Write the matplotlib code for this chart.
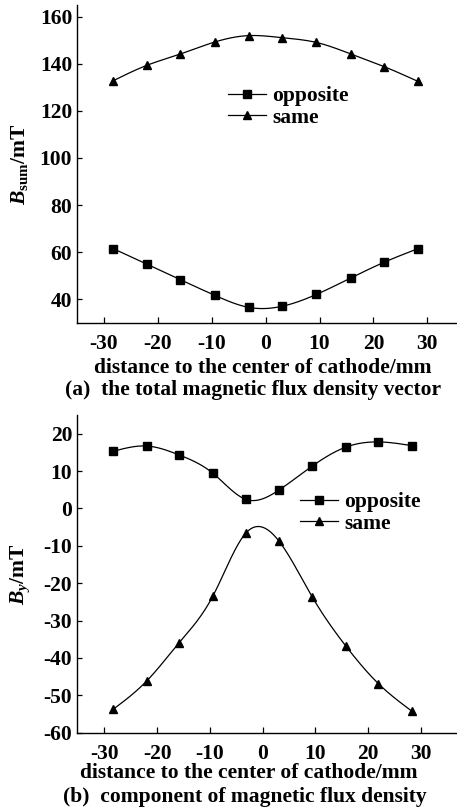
import numpy as np
import matplotlib
matplotlib.use("Agg")
import matplotlib.pyplot as plt
from matplotlib.lines import Line2D

plt.rcParams['font.family'] = ['Liberation Serif', 'DejaVu Serif']
plt.rcParams['font.weight'] = 'bold'
plt.rcParams['axes.unicode_minus'] = False
plt.rcParams['mathtext.fontset'] = 'custom'
plt.rcParams['mathtext.it'] = 'Liberation Serif:italic:bold'
plt.rcParams['mathtext.rm'] = 'Liberation Serif:bold'
plt.rcParams['mathtext.bf'] = 'Liberation Serif:bold'

# ---- data ----
x_pos = [-28.3, -22.0, -15.8, -9.4, -3.1, 3.1, 9.4, 15.8, 22.0, 28.3]

sum_opposite = [61.5, 54.8, 48.2, 41.6, 36.5, 37.0, 42.0, 49.0, 55.7, 61.5]
sum_same = [132.8, 139.4, 144.2, 149.3, 152.0, 151.1, 149.1, 144.2, 138.8, 132.5]

by_opposite = [15.3, 16.7, 14.3, 9.4, 2.4, 4.9, 11.3, 16.4, 17.8, 16.8]
by_same = [-53.7, -46.2, -35.9, -23.4, -6.5, -8.7, -23.6, -36.8, -46.9, -54.2]

xticks = [-30, -20, -10, 0, 10, 20, 30]
yticks_a = [40, 60, 80, 100, 120, 140, 160]
yticks_b = [-60, -50, -40, -30, -20, -10, 0, 10, 20]

labels = ["opposite", "same"]
xlabel = "distance to the center of cathode/mm"
cap_a = "(a)  the total magnetic flux density vector"
cap_b = "(b)  component of magnetic flux density"


def spline(x, y, n=300):
    x = np.asarray(x, float); y = np.asarray(y, float)
    m = len(x); h = np.diff(x)
    A = np.zeros((m, m)); r = np.zeros(m)
    A[0, 0] = A[-1, -1] = 1
    for i in range(1, m - 1):
        A[i, i - 1] = h[i - 1]; A[i, i] = 2 * (h[i - 1] + h[i]); A[i, i + 1] = h[i]
        r[i] = 3 * ((y[i + 1] - y[i]) / h[i] - (y[i] - y[i - 1]) / h[i - 1])
    c = np.linalg.solve(A, r)
    b = np.diff(y) / h - h * (2 * c[:-1] + c[1:]) / 3
    d = np.diff(c) / (3 * h)
    xs = np.linspace(x[0], x[-1], n)
    idx = np.clip(np.searchsorted(x, xs) - 1, 0, m - 2)
    dx = xs - x[idx]
    ys = y[idx] + b[idx] * dx + c[idx] * dx ** 2 + d[idx] * dx ** 3
    return xs, ys


W, H = 457, 811
fig = plt.figure(figsize=(W / 100, H / 100), dpi=100)

ax1 = fig.add_axes([77 / W, 1 - 322.7 / H, (W - 77) / W, (322.7 - 5) / H])
ax2 = fig.add_axes([77 / W, 1 - 732.7 / H, (W - 77) / W, (732.7 - 415) / H])

fs = 15.5
for ax, series, xlim, ylim, yt in [
    (ax1, [sum_opposite, sum_same], (-35, 35.5), (30, 165), yticks_a),
    (ax2, [by_opposite, by_same], (-35.2, 36.9), (-60, 25), yticks_b),
]:
    for vals, mk, ms in zip(series, ['s', '^'], [5.2, 5.8]):
        xs, ys = spline(x_pos, vals)
        ax.plot(xs, ys, color='black', lw=0.9)
        ax.plot(x_pos, vals, linestyle='none', marker=mk, color='black', ms=ms)
    ax.set_xlim(*xlim); ax.set_ylim(*ylim)
    ax.set_xticks(xticks); ax.set_yticks(yt)
    ax.spines['top'].set_visible(False)
    ax.spines['right'].set_visible(False)
    for s in ['left', 'bottom']:
        ax.spines[s].set_linewidth(1.0)
    ax.tick_params(axis='x', direction='in', length=4.3, width=0.9, pad=8, labelsize=fs)
    ax.tick_params(axis='y', direction='in', length=3.6, width=0.9, pad=3.5, labelsize=fs)
    for lab in ax.get_xticklabels() + ax.get_yticklabels():
        lab.set_fontweight('bold')

# legends
for ax, (lx, ly) in [(ax1, (228, 86)), (ax2, (300, 492))]:
    handles = [Line2D([], [], color='black', lw=0.9, marker='s', ms=5.2),
               Line2D([], [], color='black', lw=0.9, marker='^', ms=5.8)]
    fig.legend(handles, labels, loc='upper left', bbox_to_anchor=(lx / W, 1 - ly / H),
               bbox_transform=fig.transFigure, frameon=False, borderpad=0, borderaxespad=0,
               handlelength=1.77, handletextpad=0.28, labelspacing=0.08,
               prop={'family': 'Liberation Serif', 'weight': 'bold', 'size': fs})

fig.text(20 / W, 1 - 164 / H, r'$B_{\mathrm{sum}}$/mT', rotation=90, ha='center', va='center',
         fontsize=fs, fontweight='bold')
fig.text(20 / W, 1 - 574 / H, r'$B_{y}$/mT', rotation=90, ha='center', va='center',
         fontsize=fs, fontweight='bold')

fig.text(262.5 / W, 1 - 368 / H, xlabel, ha='center', va='center', fontsize=fs, fontweight='bold')
fig.text(253 / W, 1 - 390 / H, cap_a, ha='center', va='center', fontsize=fs, fontweight='bold')
fig.text(249 / W, 1 - 773 / H, xlabel, ha='center', va='center', fontsize=fs, fontweight='bold')
fig.text(245 / W, 1 - 797 / H, cap_b, ha='center', va='center', fontsize=fs, fontweight='bold')

fig.savefig('out.png', dpi=100)
